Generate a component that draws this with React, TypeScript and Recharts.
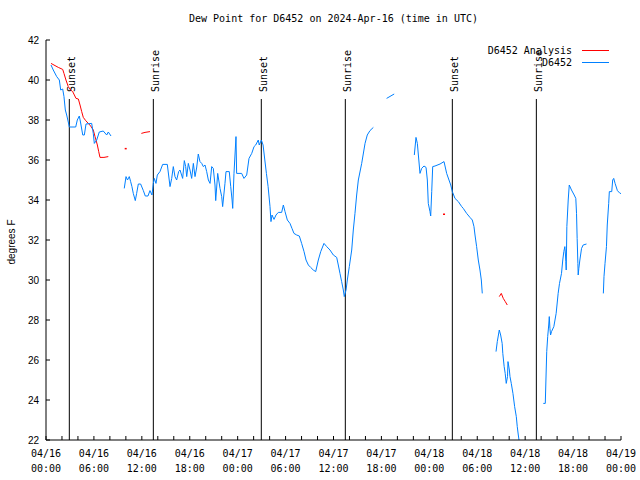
import React from 'react';
import { LineChart, Line, XAxis, YAxis, ReferenceLine } from 'recharts';

// hours since 2024-04-16 00:00 UTC; null value = gap in the record
const stationHours = [
  0.63, 0.91, 1.34, 1.67, 1.84, 2.09, 2.25, 2.42, 2.59, 2.79, 2.92, 3.72, 3.92, 4.17, 4.34, 4.6, 4.8, 5.01,
  5.72, 5.92, 6.05, 6.35, 6.67, 7.17, 7.6, 7.8, 8.14,
  9.0,
  9.8, 10.02, 10.2, 10.43, 10.6, 10.76, 10.93, 11.18, 11.35, 11.56, 11.85, 12.19, 12.43, 12.77, 13.02, 13.27,
  13.44, 13.56, 13.77, 13.94, 14.27, 14.61, 15.19, 15.53, 15.74, 15.94, 16.15, 16.36, 16.61, 16.78, 17.11,
  17.32, 17.49, 17.62, 17.82, 18.03, 18.24, 18.45, 18.66, 18.86, 19.07, 19.28, 19.5, 19.7, 19.91, 20.12,
  20.33, 20.54, 20.75, 20.95, 21.16, 21.25, 21.5, 21.79, 22.0, 22.12, 22.41, 22.54, 22.95, 23.13, 23.3,
  23.38, 23.54, 23.79, 23.87, 24.5, 24.79, 25.13, 25.42, 25.76, 26.05, 26.26, 26.58, 26.7, 26.97, 27.18,
  27.4, 27.6, 27.81, 28.05, 28.17, 28.3, 28.55, 28.8, 29.09, 29.51, 29.72, 29.93, 30.22, 30.55, 30.8,
  31.05, 31.39, 31.72, 32.01, 32.31, 32.56, 32.85, 33.14, 33.47, 33.77, 34.1, 34.4, 34.81, 35.15, 35.56,
  35.98, 36.4, 36.6, 36.81, 37.02, 37.23, 37.35, 37.57, 37.73, 37.98, 38.28, 38.48, 38.69, 38.9, 39.11,
  39.53, 39.95, 40.23, 40.57, 40.99,
  41.8,
  42.65, 43.6,
  45.0,
  46.12, 46.33, 46.5, 46.83, 47.04, 47.33, 47.59, 47.75, 47.87, 48.08, 48.17, 48.3, 48.42, 48.71, 49.34,
  49.84, 50.17, 50.68, 50.88, 51.21, 51.63, 52.05, 52.25, 52.67, 53.09, 53.38, 53.59, 53.72, 53.92, 54.13,
  54.34, 54.51, 54.63,
  55.5,
  56.35, 56.51, 56.76, 56.93, 57.12, 57.2, 57.37, 57.5, 57.63, 57.79, 57.85, 58.02, 58.1, 58.26, 58.47,
  58.68, 58.89, 59.01, 59.14, 59.3,
  60.8,
  62.27, 62.52, 62.6, 62.7, 62.82, 62.95, 63.02, 63.1, 63.18, 63.3, 63.59, 63.88, 64.13, 64.3, 64.55,
  64.71, 64.84, 64.97, 65.05, 65.09, 65.14, 65.22, 65.39, 65.52, 65.8, 66.14, 66.34, 66.43, 66.51, 66.6,
  66.64, 66.72, 66.85, 67.06, 67.26, 67.68,
  68.7,
  69.79, 69.87, 70.0, 70.18, 70.28, 70.46, 70.54, 70.84, 70.96, 71.09, 71.26, 71.55, 71.88, 72.0,
];

const stationDewPoint = [
  40.75, 40.5, 40.17, 40.0, 39.5, 39.55, 39.17, 38.5, 38.25, 37.9, 37.65, 37.65, 38.0, 38.2, 37.85, 37.25, 37.25, 37.8,
  37.83, 37.33, 36.83, 37.0, 37.4, 37.45, 37.25, 37.4, 37.2,
  null,
  34.58, 35.17, 35.0, 35.17, 34.92, 34.67, 34.33, 33.97, 34.33, 34.8, 34.8, 34.47, 34.2, 34.2, 34.47, 34.25,
  34.83, 35.08, 34.83, 35.25, 35.42, 35.78, 35.78, 34.67, 35.08, 35.67, 35.17, 35.0, 35.42, 35.5, 35.08,
  35.97, 35.67, 35.17, 35.83, 35.5, 35.08, 35.83, 35.17, 35.6, 36.3, 35.92, 35.83, 35.67, 35.75, 35.42,
  35.0, 34.83, 35.67, 35.58, 34.75, 33.97, 35.33, 34.58, 34.17, 33.67, 34.83, 35.42, 35.42, 34.67, 34.0,
  33.58, 35.33, 37.17, 35.33, 35.33, 35.08, 35.25, 36.08, 36.33, 36.67, 36.75, 37.0, 36.75, 37.0, 36.75,
  36.0, 35.33, 34.67, 33.67, 32.92, 33.25, 33.03, 33.25, 33.38, 33.38, 33.75, 33.42, 33.0, 32.83, 32.58,
  32.33, 32.25, 32.2, 31.83, 31.42, 31.0, 30.75, 30.63, 30.5, 30.42, 31.0, 31.42, 31.83, 31.67, 31.5,
  31.25, 31.13, 30.75, 30.33, 29.92, 29.5, 29.17, 29.5, 30.0, 30.67, 31.5, 32.5, 33.33, 34.25, 35.0,
  35.83, 36.83, 37.25, 37.47, 37.63,
  null,
  39.08, 39.3,
  null,
  36.25, 37.13, 36.83, 35.33, 35.58, 35.7, 35.63, 35.0, 33.83, 33.42, 33.2, 34.42, 35.67, 35.7, 35.8,
  35.92, 35.33, 34.75, 34.42, 34.08, 33.92, 33.67, 33.58, 33.33, 33.13, 33.0, 32.67, 32.25, 31.67, 31.0,
  30.5, 30.0, 29.33,
  null,
  26.42, 26.92, 27.5, 27.25, 26.83, 26.33, 25.67, 25.33, 24.83, 25.17, 25.92, 25.5, 25.17, 24.83, 24.33,
  23.67, 23.17, 22.67, 22.25, 21.8,
  null,
  23.83, 23.83, 25.0, 26.42, 27.17, 27.75, 28.17, 27.58, 27.25, 27.42, 27.67, 28.33, 29.33, 29.83, 30.33,
  31.0, 31.42, 31.67, 31.25, 30.92, 30.5, 32.67, 34.0, 34.75, 34.5, 34.25, 34.08, 33.33, 32.08, 30.83,
  30.25, 30.58, 31.0, 31.58, 31.75, 31.8,
  null,
  29.33, 30.17, 30.83, 31.67, 32.75, 33.83, 34.42, 34.42, 35.0, 35.08, 34.83, 34.47, 34.33, 34.33,
];

const analysisHours = [
  0.63, 1.13, 1.54, 2.09, 2.25, 2.5, 2.79, 3.09, 3.34, 3.55, 3.76, 4.05, 4.26, 4.47, 4.67, 4.97, 5.3, 5.59,
  5.92, 6.14, 6.43, 6.6, 6.76, 7.26, 7.8,
  9.0, 9.98, 11.0,
  11.94, 12.4, 13.02,
  30.0, 49.84, 55.0,
  56.76, 57.01, 57.26, 57.51, 57.76,
];

const analysisDewPoint = [
  40.83, 40.72, 40.63, 40.53, 40.33, 40.0, 39.67, 39.5, 39.42, 39.25, 39.08, 39.05, 38.75, 38.42, 38.13, 37.97, 37.83, 37.7,
  37.5, 37.17, 36.75, 36.42, 36.13, 36.13, 36.17,
  null, 36.58, null,
  37.33, 37.38, 37.42,
  null, 33.3, null,
  29.17, 29.33, 29.08, 28.92, 28.75,
];

const eventHours = [2.92, 13.44, 26.96, 37.48, 50.88, 61.4];
const eventNames = ['Sunset', 'Sunrise', 'Sunset', 'Sunrise', 'Sunset', 'Sunrise'];
const eventTop = 39.05;

const hourTicks = [0, 2, 4, 6, 8, 10, 12, 14, 16, 18, 20, 22, 24, 26, 28, 30, 32, 34, 36, 38, 40, 42, 44, 46, 48, 50, 52, 54, 56, 58, 60, 62, 64, 66, 68, 70, 72];
const labelHours = [0, 6, 12, 18, 24, 30, 36, 42, 48, 54, 60, 66, 72];
const dateLabels = ['04/16', '04/16', '04/16', '04/16', '04/17', '04/17', '04/17', '04/17', '04/18', '04/18', '04/18', '04/18', '04/19'];
const timeLabels = ['00:00', '06:00', '12:00', '18:00', '00:00', '06:00', '12:00', '18:00', '00:00', '06:00', '12:00', '18:00', '00:00'];
const dewTicks = [22, 24, 26, 28, 30, 32, 34, 36, 38, 40, 42];

const seriesNames = ['D6452 Analysis', 'D6452'];
const seriesColors = ['#ff0000', '#0080ff'];

const MONO = '"DejaVu Sans Mono", monospace';
const SANS = '"Liberation Sans", Arial, sans-serif';

const stationData = stationHours.map((h, i) => ({ h, v: stationDewPoint[i] }));
const analysisData = analysisHours.map((h, i) => ({ h, v: analysisDewPoint[i] }));

const BottomTick = (props: any) => {
  const { x, y, payload } = props;
  const i = labelHours.indexOf(payload.value);
  return (
    <g>
      <line x1={x} y1={y} x2={x} y2={y - 4} stroke="#000" />
      {i >= 0 && (
        <text x={x} y={y + 17} textAnchor="middle" fontFamily={MONO} fontSize={10} fill="#000">
          <tspan x={x}>{dateLabels[i]}</tspan>
          <tspan x={x} dy={15}>{timeLabels[i]}</tspan>
        </text>
      )}
    </g>
  );
};

const TopTick = (props: any) => (
  <line x1={props.x} y1={props.y} x2={props.x} y2={props.y + 4} stroke="#000" />
);

const LeftTick = (props: any) => {
  const { x, y, payload } = props;
  return (
    <g>
      <line x1={x} y1={y} x2={x + 4} y2={y} stroke="#000" />
      <text x={x - 7} y={y + 4} textAnchor="end" fontFamily={SANS} fontSize={10} fill="#000">
        {payload.value}
      </text>
    </g>
  );
};

const RightTick = (props: any) => (
  <line x1={props.x} y1={props.y} x2={props.x - 4} y2={props.y} stroke="#000" />
);

const EventLabel = (props: any) => {
  const vb = props.viewBox || { x: 0, y: 0 };
  const tx = vb.x + 6;
  const ty = vb.y - 7;
  return (
    <text x={tx} y={ty} transform={`rotate(-90 ${tx} ${ty})`} fontFamily={MONO} fontSize={10} fill="#000">
      {props.text}
    </text>
  );
};

const YTitle = (props: any) => {
  const vb = props.viewBox || { x: 0, y: 0, height: 480 };
  const tx = 15;
  const ty = vb.y + vb.height / 2 + 2;
  return (
    <text x={tx} y={ty} transform={`rotate(-90 ${tx} ${ty})`} textAnchor="middle" fontFamily={SANS} fontSize={10} fill="#000">
      degrees F
    </text>
  );
};

// single analysis values with gaps on both sides get a small mark
const IsolatedDot = (props: any) => {
  const { cx, cy, index } = props;
  const prev = analysisDewPoint[index - 1];
  const next = analysisDewPoint[index + 1];
  if (analysisDewPoint[index] == null || prev != null || next != null || cx == null) return <g key={index} />;
  return <rect key={index} x={cx - 1} y={cy - 0.5} width={2} height={1.5} fill={seriesColors[0]} />;
};

export default function App() {
  return (
    <div style={{ position: 'absolute', left: 0, top: 0, width: 640, height: 480, background: '#fff' }}>
      <div
        style={{
          position: 'absolute', left: 46, top: 13, width: 575, textAlign: 'center',
          fontFamily: MONO, fontSize: 10, lineHeight: '12px', color: '#000',
        }}
      >
        Dew Point for D6452 on 2024-Apr-16 (time in UTC)
      </div>
      <LineChart width={640} height={480} margin={{ top: 40, right: 19, bottom: 0, left: 0 }}>
        <XAxis
          xAxisId="b" dataKey="h" type="number" domain={[0, 72]} ticks={hourTicks} interval={0}
          allowDataOverflow height={40} tickSize={0} tickMargin={0} tick={<BottomTick />}
          axisLine={{ stroke: '#000' }} tickLine={false}
        />
        <XAxis
          xAxisId="t" orientation="top" dataKey="h" type="number" domain={[0, 72]} ticks={hourTicks}
          interval={0} height={0} tickSize={0} tickMargin={0} tick={<TopTick />}
          axisLine={{ stroke: '#000' }} tickLine={false}
        />
        <YAxis
          yAxisId="l" type="number" domain={[22, 42]} ticks={dewTicks} interval={0} allowDataOverflow
          width={46} tickSize={0} tickMargin={0} tick={<LeftTick />} axisLine={{ stroke: '#000' }}
          tickLine={false} label={<YTitle />}
        />
        <YAxis
          yAxisId="r" orientation="right" type="number" domain={[22, 42]} ticks={dewTicks} interval={0}
          width={0} tickSize={0} tickMargin={0} tick={<RightTick />} axisLine={{ stroke: '#000' }}
          tickLine={false}
        />
        {eventHours.map((h, i) => (
          <ReferenceLine
            key={i}
            xAxisId="b"
            yAxisId="l"
            segment={[{ x: h, y: eventTop }, { x: h, y: 22 }]}
            stroke="#000"
            strokeWidth={1}
            label={<EventLabel text={eventNames[i]} />}
          />
        ))}
        <Line
          xAxisId="b" yAxisId="l" data={analysisData} dataKey="v" type="linear"
          stroke={seriesColors[0]} strokeWidth={1} dot={<IsolatedDot />} activeDot={false}
          isAnimationActive={false} name={seriesNames[0]}
        />
        <Line
          xAxisId="b" yAxisId="l" data={stationData} dataKey="v" type="linear"
          stroke={seriesColors[1]} strokeWidth={1} dot={false} activeDot={false}
          isAnimationActive={false} name={seriesNames[1]}
        />
      </LineChart>
      {seriesNames.map((name, i) => (
        <React.Fragment key={name}>
          <div
            style={{
              position: 'absolute', right: 68, top: 45 + i * 12, fontFamily: MONO, fontSize: 10,
              lineHeight: '12px', color: '#000', whiteSpace: 'pre',
            }}
          >
            {name}
          </div>
          <div
            style={{
              position: 'absolute', left: 582, top: 50 + i * 12, width: 27, height: 1,
              background: seriesColors[i],
            }}
          />
        </React.Fragment>
      ))}
    </div>
  );
}
